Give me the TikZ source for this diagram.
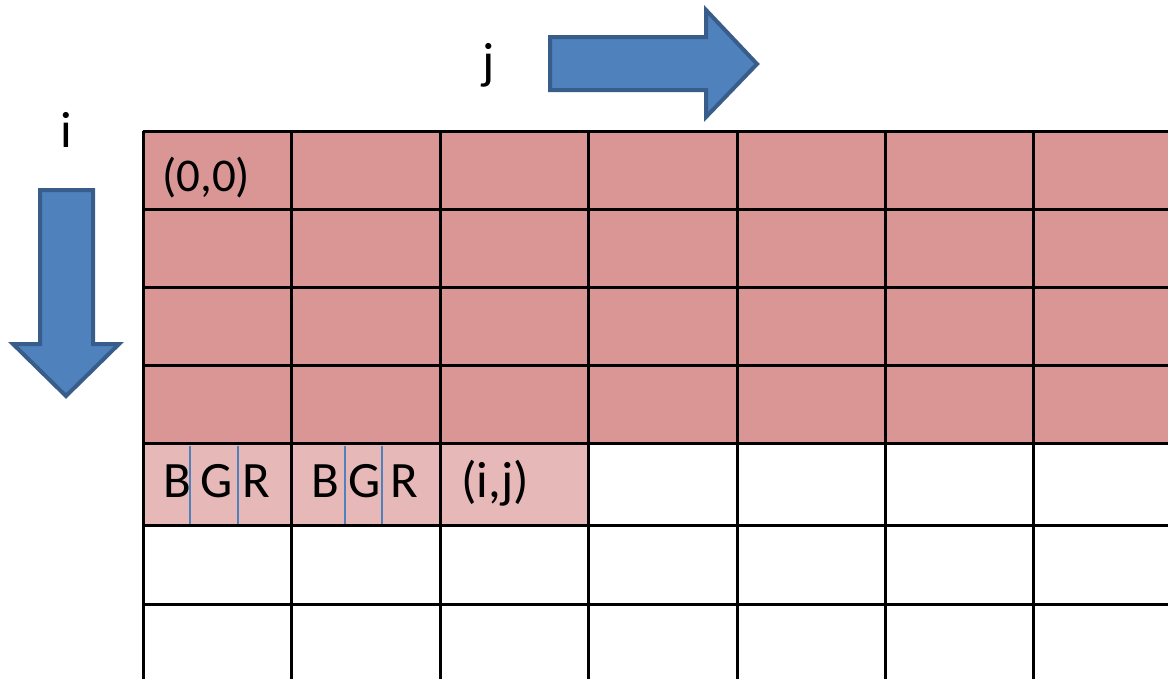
\documentclass[tikz,border=0pt]{standalone}
\usepackage{fontspec}
\setmainfont{Carlito}
\definecolor{dpink}{HTML}{D99694}
\definecolor{lpink}{HTML}{E6B9B8}
\definecolor{abl}{HTML}{4F81BD}
\definecolor{abd}{HTML}{385D8A}
\tikzset{
  lbl/.style={inner sep=0pt, anchor=base west, font=\fontsize{51}{60}\selectfont},
  lblsmall/.style={lbl, font=\fontsize{47}{56}\selectfont},
  gridline/.style={line width=3pt, black},
  sep/.style={line width=1.5pt, abl},
  bigarrow/.style={fill=abl, draw=abd, line width=4pt, line join=miter}
}
\begin{document}
\begin{tikzpicture}[x=1pt,y=-1pt]
\useasboundingbox (0,0) rectangle (1168,678);
% fills
\fill[dpink] (143,131) rectangle (1168,443);
\fill[lpink] (143,443) rectangle (588,525);
% separators inside pixels
\foreach \x in {190,238,345,382} \draw[sep] (\x,446) -- (\x,527);
% grid
\foreach \y in {131,209,287,365,443,525,604} \draw[gridline] (143,\y) -- (1170,\y);
\foreach \x in {143,291,440,588,737,885,1033} \draw[gridline] (\x,131) -- (\x,680);
% arrows
\draw[bigarrow] (40,190) -- (93,190) -- (93,344) -- (119,344) -- (66,396) -- (13,344) -- (40,344) -- cycle;
\draw[bigarrow] (550,37) -- (706,37) -- (706,10) -- (757,64) -- (706,117) -- (706,90) -- (550,90) -- cycle;
% labels
\node[lbl, anchor=base] (li) at (66,147) {i};
\node[lbl, anchor=base] (lj) at (489,78) {j};
\node[lblsmall] (t00) at (162,191) {(0,0)};
\node[lbl] (b1) at (163,497) {B};
\node[lbl] (g1) at (200,497) {G};
\node[lbl] (r1) at (242,497) {R};
\node[lbl] (b2) at (311,497) {B};
\node[lbl] (g2) at (348,497) {G};
\node[lbl] (r2) at (390,497) {R};
\node[lbl] (tij) at (461,497) {(i,j)};
\end{tikzpicture}
\end{document}
